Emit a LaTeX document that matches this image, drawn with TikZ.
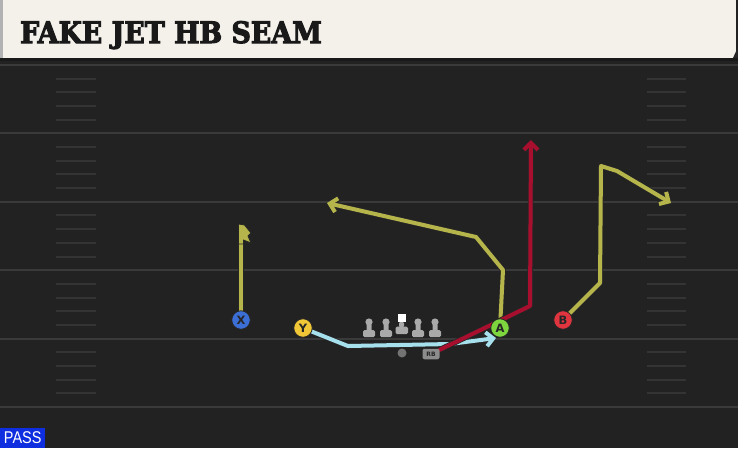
\documentclass[tikz,border=0pt]{standalone}
\usepackage{fontspec}
\setmainfont{DejaVu Sans}
\newfontfamily\titlefont[FakeBold=3.5,FakeStretch=0.91]{DejaVu Serif}
\newfontfamily\tagfont[FakeStretch=0.85]{Liberation Sans}
\usetikzlibrary{arrows.meta}
\definecolor{fieldbg}{HTML}{222222}
\definecolor{fieldline}{HTML}{3A3A3A}
\definecolor{hashline}{HTML}{343434}
\definecolor{headerbg}{HTML}{F4F1EA}
\definecolor{olive}{HTML}{B5B54C}
\definecolor{crimson}{HTML}{A80F2E}
\definecolor{skyroute}{HTML}{A6E0EC}
\definecolor{xblue}{HTML}{3C6FD6}
\definecolor{yyellow}{HTML}{F2C737}
\definecolor{agreen}{HTML}{7ED63F}
\definecolor{bred}{HTML}{E0343F}
\definecolor{passblue}{HTML}{0F2EE0}
\definecolor{linegray}{HTML}{A9A9A9}
\pgfdeclarelayer{background}
\pgfdeclarelayer{routes}
\pgfsetlayers{background,routes,main}
\tikzset{%
    player/.style={circle, draw=black!85, line width=0.8pt, minimum size=18.5pt,
        inner sep=0pt, font=\bfseries\fontsize{11.5}{11.5}\selectfont, text=black!85},
    route/.style={line width=4pt, line join=round, line cap=round,
        preaction={draw=black!85, line width=5.6pt}},
    tip/.style={-{Straight Barb[length=7pt,width=14pt]}}
}

\begin{document}
\begin{tikzpicture}[x=1pt,y=-1pt]
\useasboundingbox (0,0) rectangle (738,448);

% field and header
\begin{pgfonlayer}{background}
\fill[fieldbg] (0,0) rectangle (738,448);
\fill[black!90] (0,56) rectangle (738,61);
\fill[headerbg] (0,0) rectangle (736,58);
\fill[black!30] (0,0) rectangle (3,58);
\fill[black!85] (738,47) -- (738,58) -- (733,58) -- cycle;
\foreach \k in {0,...,5}
  \draw[fieldline, line width=2pt] (0,65+68.4*\k) -- (738,65+68.4*\k);
\foreach \j in {1,...,24}{
  \pgfmathtruncatemacro{\r}{mod(\j,5)}
  \ifnum\r>0
    \draw[hashline, line width=2pt] (56,65+13.68*\j) -- (96,65+13.68*\j);
    \draw[hashline, line width=2pt] (647,65+13.68*\j) -- (686,65+13.68*\j);
  \fi
}
\end{pgfonlayer}

\node[anchor=base west, inner sep=0pt, text=black!90, font=\titlefont\bfseries\fontsize{29.5}{30}\selectfont] (title) at (20,43) {FAKE JET HB SEAM};
\node[anchor=south west, fill=passblue, text=white, inner sep=0pt, minimum width=45pt, minimum height=20pt, font=\tagfont\fontsize{17}{17}\selectfont] (pass) at (0,448) {PASS};

% line
\foreach \lx in {369,386,418,435}{
  \fill[linegray] (\lx,322) circle (3.6);
  \fill[linegray, rounded corners=1pt] (\lx-2.5,324) rectangle (\lx+2.5,331);
  \fill[linegray, rounded corners=1.5pt] (\lx-6,330) rectangle (\lx+6,337);
}
\fill[white] (397.5,314) rectangle (405.5,322);
\fill[linegray, rounded corners=1pt] (399,322) rectangle (404,327);
\fill[linegray, rounded corners=1.5pt] (395.5,326.5) rectangle (408,334);

% players
\node[player, fill=xblue] (x) at (241,320) {X};
\node[player, fill=yyellow] (y) at (303,328) {Y};
\node[player, fill=agreen] (a) at (500,328) {A};
\node[player, fill=bred] (b) at (563,320) {B};
\node[circle, fill=black!55, minimum size=9pt, inner sep=0pt] (qb) at (402,353) {};
\node[fill=black!45, rounded corners=2pt, minimum width=17pt, minimum height=10.5pt, inner sep=0pt,
      font=\bfseries\fontsize{6}{6}\selectfont, text=black!85] (rb) at (431,354) {RB};

% route points
\coordinate (x1) at (241,238);
\coordinate (y1) at (348,346);
\coordinate (y2) at (450,344);
\coordinate (y3) at (496,338);
\coordinate (a1) at (503,270);
\coordinate (a2) at (476,237);
\coordinate (a3) at (327,203);
\coordinate (b1) at (600,283);
\coordinate (b2) at (601,166);
\coordinate (b3) at (617,171);
\coordinate (b4) at (671,203);
\coordinate (rb1) at (530,306);
\coordinate (rb2) at (531,140);

\begin{pgfonlayer}{routes}
\draw[route, olive] (x) -- (x1);
\filldraw[olive, draw=black!85, line width=0.8pt, line join=round]
  (238.5,224) -- (244.5,225) -- (251,233) -- (248,236) -- (251,243) -- (243.5,240) -- (243.5,244) -- (238.5,244) -- cycle;
\draw[route, tip, skyroute] (y) -- (y1) -- (y2) -- (y3);
\draw[route, tip, olive] (a) -- (a1) -- (a2) -- (a3);
\draw[route, tip, olive] (b) -- (b1) -- (b2) -- (b3) -- (b4);
\draw[route, tip, crimson] (rb) -- (rb1) -- (rb2);
\end{pgfonlayer}
\end{tikzpicture}
\end{document}
